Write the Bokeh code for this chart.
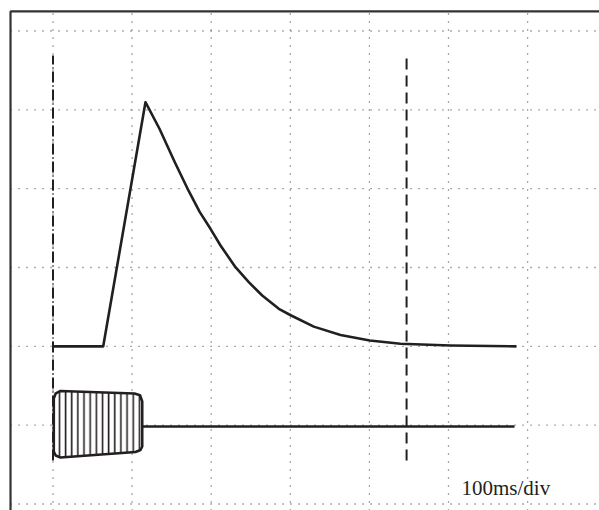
from bokeh.plotting import figure
from bokeh.models import Range1d
from bokeh.core.properties import value
from bokeh.embed import file_html
from bokeh.resources import INLINE

# ---- data (time in ms, 100 ms/div; amplitude in divisions) ----
x_ticks = [0, 100, 200, 300, 400, 500, 600]
y_ticks = [0, 1, 2, 3, 4, 5, 6]

# upper trace: baseline, linear rise, exponential-like decay
curve_t = [0, 63.5, 116.9, 134.6, 154.0, 171.7, 185.6, 199.1, 211.8, 230.7,
           247.5, 264.5, 285.5, 301.1, 329.7, 363.5, 400.5, 439.3, 502.5, 586.0]
curve_v = [2.0, 2.0, 5.097, 4.760, 4.336, 3.968, 3.702, 3.491, 3.279, 3.004,
           2.814, 2.645, 2.476, 2.391, 2.250, 2.145, 2.074, 2.032, 2.011, 2.0]

# lower trace: stimulus block then flat line
block_t = [1.0, 1.0, 3.5, 9.5, 103.0, 110.0, 112.8, 112.8, 110.6, 104.3, 9.5, 3.4]
block_v = [0.666, 1.338, 1.404, 1.433, 1.402, 1.379, 1.300, 0.729, 0.685, 0.660, 0.590, 0.615]
lower_t = [112.8, 583.5]
lower_v = [0.983, 0.983]

# markers
marker_start_t = 0.0
marker_end_t = 447.0
marker_v = [0.552, 5.69]

label_text = "100ms/div"
label_t = 516.4
label_v = 0.205

# frame / view limits
x_lo, x_hi = -66.37, 690.9
y_lo, y_hi = -0.0825, 6.387
frame_t = -53.7
frame_v = 6.248

INK = "#231f20"

p = figure(width=599, height=510, output_backend="svg", toolbar_location=None,
           x_axis_type=None, y_axis_type=None,
           x_range=Range1d(x_lo, x_hi), y_range=Range1d(y_lo, y_hi),
           min_border=0, outline_line_color=None)
p.xgrid.visible = False
p.ygrid.visible = False
p.background_fill_color = "white"
p.border_fill_color = "white"

# dotted graticule
p.segment(x0=x_ticks, x1=x_ticks, y0=[y_lo] * len(x_ticks), y1=[frame_v] * len(x_ticks),
          line_color="#555555", line_width=1.3, line_dash="1 7")
p.segment(x0=[frame_t] * len(y_ticks), x1=[x_hi] * len(y_ticks), y0=y_ticks, y1=y_ticks,
          line_color="#555555", line_width=1.3, line_dash="1 7")

# frame (top and left)
p.line(x=[frame_t, frame_t, x_hi], y=[y_lo, frame_v, frame_v], line_color="#333333", line_width=2.2)

# markers
p.line(x=[marker_start_t, marker_start_t], y=marker_v, line_color=INK, line_width=2,
       line_dash="11 3 1 3")
p.line(x=[marker_end_t, marker_end_t], y=marker_v, line_color=INK, line_width=2,
       line_dash="11 6")

# traces
p.line(x=curve_t, y=curve_v, line_color=INK, line_width=2.6, line_join="round")
p.patch(x=block_t, y=block_v, fill_color="white", line_color=INK, line_width=2.6,
        line_join="round", hatch_pattern="|", hatch_scale=6.15, hatch_weight=1.6,
        hatch_color=INK)
p.line(x=lower_t, y=lower_v, line_color=INK, line_width=2.6)

p.text(x=[label_t], y=[label_v], text=[label_text], text_font=value("Liberation Serif"),
       text_font_size="21px", text_color=INK, text_baseline="alphabetic", text_align="left")

open("out.html", "w").write(file_html(p, INLINE))
